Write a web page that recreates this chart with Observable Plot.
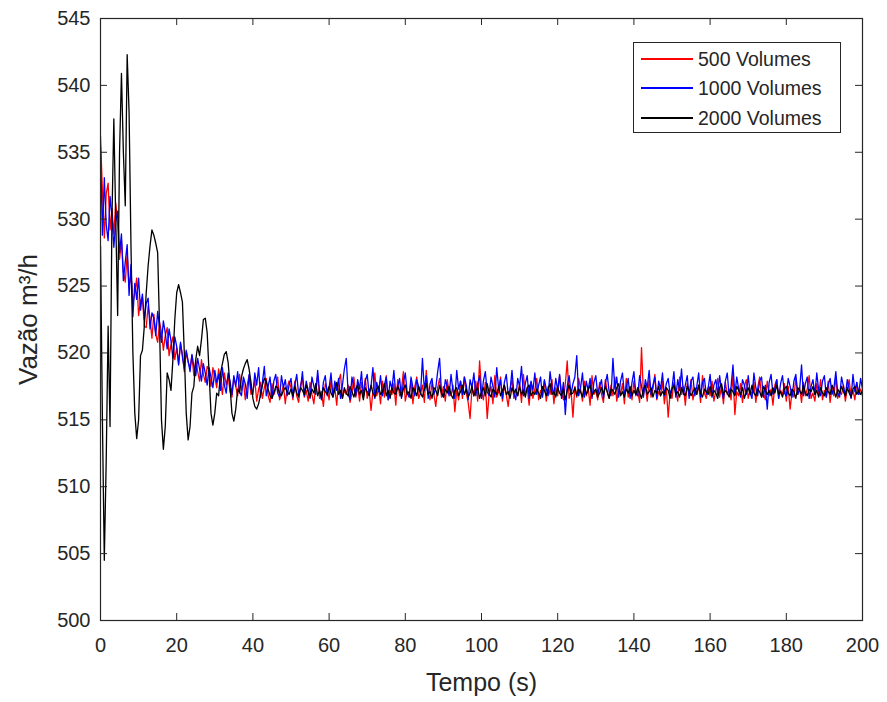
<!DOCTYPE html>
<html><head><meta charset="utf-8">
<script src="https://cdn.jsdelivr.net/npm/d3@7"></script>
<script src="https://cdn.jsdelivr.net/npm/@observablehq/plot@0.6"></script>
<style>
body{margin:0;background:#fff;}
#wrap{position:relative;width:887px;height:702px;}
#legend{position:absolute;left:633px;top:42px;width:206px;height:89px;border:1px solid #262626;background:#fff;font-family:"Liberation Sans",Arial,sans-serif;font-size:19.5px;color:#262626;}
.row{position:absolute;left:7px;height:24px;display:flex;align-items:center;white-space:nowrap;}
.swatch{display:block;width:52px;height:2px;margin-right:5px;}
</style></head><body><div id="wrap"></div>
<script>
// time grid (s): 0.5 s steps from 0 to 200
const tempo = d3.range(0, 200.5, 0.5);
const seriesNames = ["500 Volumes", "1000 Volumes", "2000 Volumes"];
const seriesColors = ["#ff0000", "#0000ff", "#000000"];
const xTicks = [0, 20, 40, 60, 80, 100, 120, 140, 160, 180, 200];
const yTicks = [500, 505, 510, 515, 520, 525, 530, 535, 540, 545];

const vol500 = [
536.2,532.1,528.6,531.9,532.7,529.2,530.8,528.9,531.2,529.6,
527.0,528.4,526.1,525.3,527.4,524.9,525.9,523.7,524.5,525.6,
522.8,523.9,524.2,522.0,521.9,523.5,522.6,521.1,522.9,521.4,
520.8,522.3,521.6,520.2,521.3,521.9,519.8,520.6,521.2,519.5,
520.4,519.2,520.7,519.9,518.6,520.1,519.3,518.9,519.8,518.3,
519.4,518.6,517.9,519.5,518.4,517.8,519.0,518.7,517.5,518.9,
518.2,517.4,518.8,517.9,516.9,518.5,517.6,518.3,517.1,516.7,
518.2,517.5,516.8,518.4,517.2,517.9,516.5,517.6,518.3,516.9,
517.1,518.0,516.4,517.3,517.8,516.6,517.4,518.1,516.8,516.3,
517.7,516.9,517.3,518.2,516.5,517.0,517.6,516.2,517.4,517.9,
517.4,516.5,517.9,516.8,516.3,517.6,518.1,516.7,517.2,516.4,
517.8,516.9,516.2,517.5,518.3,516.6,517.1,516.0,517.7,517.3,
516.5,518.0,516.8,517.4,516.1,517.9,518.4,516.6,517.2,516.9,
517.6,516.3,517.0,518.2,516.7,517.5,516.4,517.8,516.9,518.1,
516.6,517.3,515.7,517.1,518.5,516.8,517.4,516.2,517.9,516.7,
518.3,516.5,517.2,516.9,517.7,516.1,518.0,516.8,517.3,518.6,
516.4,517.1,516.7,517.9,516.2,517.5,518.2,516.6,517.0,517.6,
516.3,518.7,517.1,516.5,517.8,516.9,516.0,517.4,518.1,516.7,
517.5,516.4,518.0,517.1,516.8,517.6,515.6,517.2,516.5,517.9,
516.6,518.2,517.0,516.3,515.1,517.4,516.8,517.9,516.4,519.4,
517.2,516.5,517.8,515.1,516.9,517.5,516.2,518.3,516.7,517.1,
518.2,516.4,517.6,516.9,516.0,517.3,518.0,516.6,517.2,516.8,
517.7,516.3,518.4,516.9,517.4,516.1,517.8,516.6,517.3,518.1,
516.5,517.2,516.8,517.9,516.4,517.5,516.9,518.0,516.2,517.4,
516.8,518.3,517.0,516.5,517.7,519.4,516.6,517.2,515.2,517.5,
516.7,518.1,517.3,516.4,517.9,516.8,517.4,516.1,518.3,516.9,
517.2,516.5,517.8,516.9,516.3,518.0,517.1,516.6,517.6,516.8,
518.2,516.4,517.3,516.9,517.7,516.2,518.1,516.7,517.4,516.5,
517.9,516.8,517.2,516.3,520.4,516.9,517.5,516.4,518.0,516.7,
517.3,518.4,516.5,517.1,516.8,517.9,516.2,517.4,515.2,517.0,
516.6,517.8,517.2,516.4,518.2,516.9,517.5,516.1,517.7,516.8,
518.0,516.5,517.3,516.9,517.6,516.3,518.3,517.0,516.6,517.4,
516.8,517.9,516.4,517.2,518.1,516.7,517.5,516.2,517.8,516.9,
517.3,516.5,518.4,515.4,517.1,516.8,517.7,516.3,517.5,518.0,
516.6,517.2,516.9,517.8,516.3,517.4,518.2,516.7,517.0,516.5,
517.9,516.8,517.3,516.1,517.6,518.0,516.6,517.2,516.9,517.7,
516.4,517.5,515.8,517.1,516.7,518.1,516.9,517.4,516.3,517.8,
516.8,517.3,518.3,516.6,517.0,516.4,517.7,516.9,518.0,516.5,
517.2,516.7,517.9,516.3,517.5,516.8,518.2,516.6,517.1,516.9,
517.6,516.4,517.3,518.0,516.7,517.2,516.5,517.8,516.9,517.3,
516.8];

const vol1000 = [
535.4,528.8,533.1,529.6,528.4,531.7,530.2,527.9,529.8,530.6,
527.5,528.9,525.4,526.8,528.1,524.3,526.6,522.7,525.2,524.0,
525.6,523.2,524.4,522.5,523.7,524.1,521.8,523.0,522.6,521.3,
523.1,521.9,520.8,522.4,521.5,520.3,521.8,520.9,519.6,521.2,
520.5,519.1,520.8,519.7,518.8,520.2,519.4,518.6,519.9,519.0,
518.3,519.6,518.8,517.9,519.2,518.5,517.6,518.9,518.2,517.4,
518.7,517.8,518.4,517.2,518.9,517.6,517.0,518.5,517.9,516.9,
518.3,517.5,518.6,517.1,516.8,518.2,517.7,516.6,518.4,517.3,
516.9,518.5,517.6,518.9,516.7,517.8,519.0,516.8,517.5,518.2,
516.6,517.9,518.4,517.0,516.7,518.3,517.4,518.0,516.8,517.6,
518.1,516.7,517.6,518.4,516.9,517.3,518.6,516.8,517.9,517.2,
516.6,518.2,517.5,516.9,518.7,517.1,516.5,517.8,518.3,516.8,
517.4,518.5,516.7,517.9,517.2,518.1,516.6,517.6,518.8,519.6,
517.0,516.5,518.2,517.4,516.8,518.0,517.3,518.6,516.7,517.9,
518.4,516.9,517.5,518.9,516.6,517.8,517.1,518.3,516.8,517.6,
518.2,516.5,517.9,517.3,518.7,516.9,517.5,518.1,516.6,517.8,
518.5,517.0,516.7,518.2,517.4,516.8,518.0,517.5,516.9,519.6,
517.2,518.3,516.6,517.7,518.1,516.9,517.4,518.6,519.6,517.0,
516.7,518.0,517.5,516.8,518.4,517.2,516.6,518.7,517.3,517.9,
516.9,518.2,517.6,516.5,518.0,517.4,518.5,516.8,517.7,518.3,
516.6,517.9,518.6,517.1,516.8,518.2,517.5,516.7,518.9,517.3,
518.0,516.6,517.8,518.4,516.9,517.2,518.7,517.0,516.5,518.1,
517.5,519.0,516.8,517.7,518.3,516.6,517.9,517.2,518.5,516.9,
517.6,518.2,516.7,518.0,517.3,516.8,518.6,517.4,516.9,518.1,
517.2,518.4,516.6,517.8,515.4,517.5,518.3,516.9,517.7,518.2,
519.8,516.8,517.4,518.5,516.7,517.9,517.2,518.1,516.6,517.8,
518.3,516.9,517.5,518.0,516.6,517.7,518.4,517.1,516.8,519.6,
517.3,518.2,516.7,517.9,518.5,516.9,517.4,518.1,516.6,517.8,
518.6,517.0,516.8,518.3,517.5,516.7,518.0,517.4,518.7,516.9,
517.6,518.2,516.6,517.9,517.3,518.5,516.8,517.7,518.1,516.9,
517.4,518.6,516.7,518.0,517.2,518.8,516.9,517.6,518.3,516.6,
517.9,518.2,516.8,517.5,518.5,516.7,517.8,518.1,516.9,517.4,
518.4,516.7,517.6,518.0,516.9,518.3,517.2,516.6,517.9,518.5,
516.8,517.5,519.1,516.9,518.2,517.3,516.7,518.0,517.6,516.9,
518.3,517.0,516.6,518.5,517.4,516.8,517.9,518.2,516.7,517.6,
515.8,517.8,518.4,516.9,517.3,518.0,516.6,517.7,518.3,517.0,
516.8,518.1,517.5,516.7,517.9,518.4,516.9,517.3,519.1,516.8,
517.7,518.2,516.6,517.5,518.0,516.9,518.5,517.2,516.8,517.9,
518.3,516.7,517.6,518.1,516.9,517.4,518.6,517.0,516.7,518.2,
517.5,516.8,518.0,517.3,516.6,518.4,517.1,517.8,516.9,518.1,
517.3];

const vol2000 = [
528.0,515.0,504.5,512.0,522.0,514.5,530.0,537.5,530.0,522.8,
535.0,540.9,535.0,531.0,542.3,538.0,528.0,520.0,515.5,513.6,
515.0,519.8,520.2,522.0,524.5,526.5,528.0,529.2,528.8,528.2,
527.5,522.0,515.0,512.8,514.5,518.5,518.0,517.2,519.5,522.5,
524.5,525.1,524.5,523.8,520.0,515.5,513.5,514.5,517.0,517.5,
519.5,520.5,519.8,521.0,522.5,522.6,521.5,518.5,515.5,514.6,
515.5,517.0,516.8,518.5,519.2,519.9,520.1,519.3,517.5,515.5,
514.9,515.8,517.3,517.0,518.2,518.8,519.2,519.5,518.8,517.8,
516.6,516.0,515.8,516.2,516.9,517.6,518.1,517.9,517.3,516.8,
516.6,517.0,517.5,517.4,517.0,516.8,517.2,517.4,517.1,516.9,
517.3,516.8,517.5,517.0,516.7,517.4,517.2,516.9,517.6,517.1,
516.7,517.3,517.0,517.7,516.8,517.2,516.6,517.4,517.1,516.9,
517.5,517.0,516.7,517.3,517.8,516.9,517.2,516.6,517.4,517.0,
516.8,517.5,517.1,516.7,517.3,517.6,516.9,517.2,516.5,517.4,
517.1,516.8,517.6,517.0,516.7,517.3,517.5,516.9,517.1,517.7,
516.8,517.2,516.6,517.4,517.0,516.9,517.5,517.2,516.7,517.3,
517.6,516.9,517.1,516.6,517.4,517.2,516.8,517.5,517.0,516.7,
517.3,517.7,516.9,517.1,516.6,517.4,517.2,516.8,517.6,517.0,
516.7,517.3,517.0,517.5,516.9,516.6,517.2,517.4,516.8,517.1,
517.6,516.9,517.3,516.7,517.0,517.5,516.8,517.2,517.4,516.6,
517.1,517.4,516.8,517.7,517.0,516.7,517.3,517.1,516.9,517.5,
516.8,517.2,517.6,516.9,517.1,516.6,517.4,517.0,517.3,516.8,
517.5,516.9,517.2,516.7,517.4,517.6,516.8,517.1,516.9,517.3,
517.0,516.6,517.5,517.2,516.8,517.3,517.7,516.9,517.1,516.7,
517.4,517.0,516.8,517.3,516.5,517.2,517.6,516.9,517.0,517.4,
516.8,517.3,517.1,516.7,517.5,516.9,517.2,517.6,516.8,517.1,
517.3,516.7,517.0,517.4,516.9,517.5,517.1,516.6,517.3,517.2,
516.9,517.4,517.7,516.8,517.1,516.7,517.3,517.0,517.5,516.8,
517.2,516.9,517.4,517.0,516.6,517.3,517.6,516.9,517.1,517.4,
516.7,517.2,517.0,517.5,516.8,517.1,516.9,517.4,517.2,516.6,
517.3,517.6,516.9,517.1,516.7,517.4,517.0,516.8,517.5,517.2,
516.8,517.1,517.4,516.9,517.6,517.0,516.7,517.3,517.1,516.9,
517.5,516.8,517.2,517.0,516.6,517.4,517.7,516.9,517.2,517.0,
516.7,517.3,517.1,516.8,517.5,517.2,516.9,517.4,516.6,517.1,
517.4,516.9,517.6,517.0,516.8,517.3,517.1,516.7,517.5,517.2,
516.9,517.2,516.8,517.4,517.0,517.6,516.9,517.1,516.7,517.3,
517.5,517.0,516.8,517.3,517.1,516.6,517.4,517.2,516.9,517.6,
517.0,516.8,517.3,517.1,517.5,516.9,517.2,516.7,517.4,517.0,
516.8,517.4,517.1,516.9,517.6,517.2,516.7,517.3,517.0,517.5,
517.1,516.8,517.4,517.0,516.7,517.3,517.5,516.9,517.2,516.9,
517.2];

const seriesValues = [vol500, vol1000, vol2000];
const data = seriesNames.flatMap((name, i) =>
  tempo.map((t, j) => ({t, v: seriesValues[i][j], name})));

const W = 887, H = 702, mL = 100, mR = 25, mT = 18, mB = 82;
const innerW = W - mL - mR, innerH = H - mT - mB, tk = 7;
const ink = "#262626";
const font = "'Liberation Sans', Arial, Helvetica, sans-serif";

const chart = Plot.plot({
  width: W, height: H,
  marginLeft: mL, marginRight: mR, marginTop: mT, marginBottom: mB,
  x: {domain: [0, 200]},
  y: {domain: [500, 545]},
  color: {domain: seriesNames, range: seriesColors},
  style: {fontFamily: font, color: ink, background: "white", overflow: "visible"},
  marks: [
    Plot.line(data, {x: "t", y: "v", z: "name", stroke: "name", strokeWidth: 1.3, clip: true}),
    Plot.tickX(xTicks, {x: d => d, insetTop: innerH - tk, stroke: ink}),
    Plot.tickX(xTicks, {x: d => d, insetBottom: innerH - tk, stroke: ink}),
    Plot.tickY(yTicks, {y: d => d, insetRight: innerW - tk, stroke: ink}),
    Plot.tickY(yTicks, {y: d => d, insetLeft: innerW - tk, stroke: ink}),
    Plot.frame({stroke: ink, strokeWidth: 1.2}),
    Plot.axisX({ticks: xTicks, tickSize: 0, tickPadding: 17, fontSize: 20, label: null, fill: ink}),
    Plot.axisY({ticks: yTicks, tickSize: 0, tickPadding: 10, fontSize: 20, label: null, fill: ink}),
    Plot.text(["Tempo (s)"], {text: d => d, frameAnchor: "bottom", textAnchor: "middle", lineAnchor: "bottom", dy: 70, fontSize: 25, fill: ink}),
    Plot.text(["Vazão m³/h"], {text: d => d, frameAnchor: "left", textAnchor: "middle", lineAnchor: "bottom", rotate: -90, dx: -64, fontSize: 26, fill: ink})
  ]
});

const wrap = document.getElementById("wrap");
wrap.appendChild(chart);

const rowTops = [4, 33, 63];
const legend = document.createElement("div");
legend.id = "legend";
seriesNames.forEach((name, i) => {
  const row = document.createElement("div");
  row.className = "row";
  row.style.top = rowTops[i] + "px";
  const sw = document.createElement("span");
  sw.className = "swatch";
  sw.style.backgroundColor = seriesColors[i];
  const lab = document.createElement("span");
  lab.textContent = name;
  row.appendChild(sw); row.appendChild(lab);
  legend.appendChild(row);
});
wrap.appendChild(legend);
</script>
</body></html>
